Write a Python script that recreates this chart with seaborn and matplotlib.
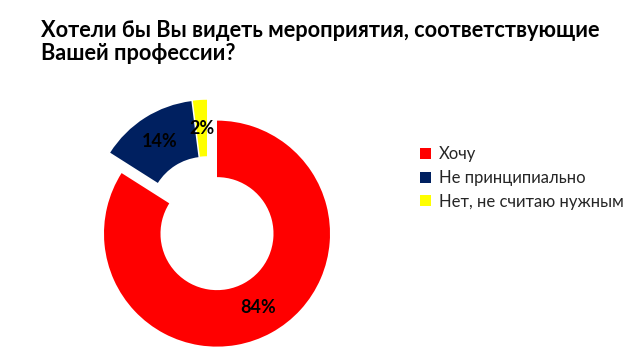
import matplotlib
matplotlib.use("Agg")
import matplotlib.pyplot as plt
import seaborn as sns

categories = ["Хочу", "Не принципиально", "Нет, не считаю нужным"]
values = [84, 14, 2]
colors = ["#FF0000", "#002060", "#FFFF00"]
explode = [0.18, 0.027, 0.027]
title_lines = ["Хотели бы Вы видеть мероприятия, соответствующие", "Вашей профессии?"]

sns.set_theme(style="white")
plt.rcParams['font.family'] = ['Lato', 'DejaVu Sans']

W, H = 639, 356
fig = plt.figure(figsize=(W / 100, H / 100), dpi=100)

# pie axes placed so that radius 1 = 113 px, centre at (207, 216 from top)
R = 113.0
L = 1.4
S = 2 * L * R
cx, cy = 207.2, H - 215.8
ax = fig.add_axes([(cx - S / 2) / W, (cy - S / 2) / H, S / W, S / H])
wedges, texts, autotexts = ax.pie(
    values, colors=colors, explode=explode, startangle=90, counterclock=False,
    radius=1.0, autopct=lambda p: f"{p:.0f}%", pctdistance=0.75,
    wedgeprops=dict(width=0.5, edgecolor="none", linewidth=0),
    textprops=dict(fontsize=13, fontweight="bold", color="black"),
)
ax.set_xlim(-L, L)
ax.set_ylim(-L, L)
ax.set_aspect("equal")
ax.axis("off")
for w in wedges:
    w.set_clip_on(False)

for line, base in zip(title_lines, [36.7, 60.0]):
    fig.text(41 / W, 1 - base / H, line, ha="left", va="baseline",
             fontsize=15.65, fontweight="bold", color="black")

leg = fig.legend(wedges, categories, loc="center left",
                 bbox_to_anchor=(420.5 / W, 1 - 178 / H), frameon=False,
                 fontsize=12.0, handlelength=0.65, handleheight=0.65,
                 handletextpad=0.45, labelspacing=0.45, borderaxespad=0,
                 borderpad=0)

fig.savefig("out.png", dpi=100, facecolor="white")
